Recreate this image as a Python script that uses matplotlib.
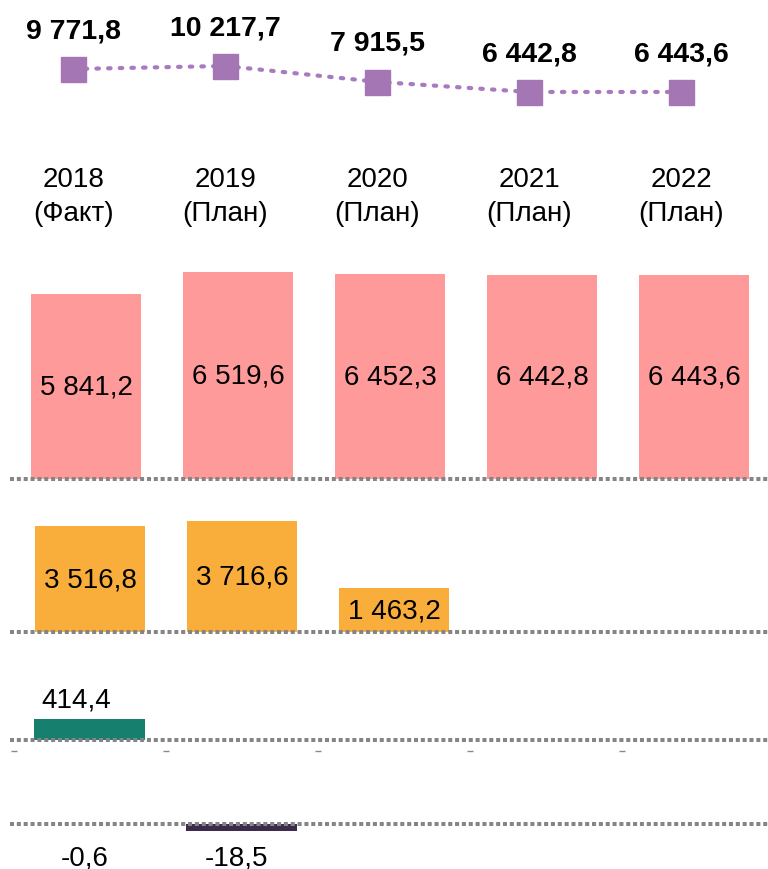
import matplotlib
matplotlib.use("Agg")
import matplotlib.pyplot as plt
import matplotlib.transforms as mtransforms

plt.rcParams['font.family'] = ['Liberation Sans', 'DejaVu Sans']

# data
years = ['2018\n(Факт)', '2019\n(План)', '2020\n(План)', '2021\n(План)', '2022\n(План)']
total = [9771.8, 10217.7, 7915.5, 6442.8, 6443.6]
red_vals = [5841.2, 6519.6, 6452.3, 6442.8, 6443.6]
orange_vals = [3516.8, 3716.6, 1463.2]
green_vals = [414.4]
dark_vals = [-0.6, -18.5]

W, H = 768, 870
fig = plt.figure(figsize=(W / 100, H / 100), dpi=100)


def axes_px(left, top, width, height):
    # pixel box -> figure fraction
    return fig.add_axes([left / W, 1 - (top + height) / H, width / W, height / H])


def fmt(v):
    s = f"{abs(v):,.1f}".replace(",", " ").replace(".", ",")
    return ("-" if v < 0 else "") + s


def clean(ax):
    for sp in ax.spines.values():
        sp.set_visible(False)
    ax.set_xticks([])
    ax.set_yticks([])
    ax.patch.set_alpha(0)


def baseline(ax):
    ax.axhline(0, color='#858585', lw=2.9, ls=(0, (1, 0.7)), zorder=5, clip_on=False)


grey = '#8a8a8a'
xs = range(len(years))

# top line with totals
ax0 = axes_px(10, 65, 760, 31)
clean(ax0)
ax0.set_xlim(-0.415, 4.585)
ax0.set_ylim(6000, 10500)
ax0.plot(xs, total, color='#a87bc0', lw=3, ls=(0, (0.6, 2.2)), dash_capstyle='round', zorder=2)
ax0.plot(xs, total, ls='none', marker='s', ms=18, color='#a576b4', zorder=3, clip_on=False)
for i, v in enumerate(total):
    ax0.annotate(fmt(v), (i, v), xytext=(0, 28), textcoords='offset points',
                 ha='center', va='center', fontsize=20.5, fontweight='bold')

tr = mtransforms.blended_transform_factory(ax0.transData, fig.transFigure)
for i, lab in enumerate(years):
    ax0.text(i, 1 - 197 / H, lab, transform=tr, ha='center', va='center',
             fontsize=20, linespacing=1.4)

# red bars
ax1 = axes_px(10, 258, 760, 222)
clean(ax1)
ax1.set_xlim(-0.5, 4.5)
ax1.set_ylim(0, 7000)
ax1.bar(range(len(red_vals)), red_vals, width=0.72, color='#ff9a9b', zorder=2)
for i, v in enumerate(red_vals):
    ax1.text(i, v / 2, fmt(v), ha='center', va='center', fontsize=20)
baseline(ax1)

# orange bars
ax2 = axes_px(10, 513, 760, 120)
clean(ax2)
ax2.set_xlim(-0.526, 4.474)
ax2.set_ylim(0, 4000)
ax2.bar(range(len(orange_vals)), orange_vals, width=0.72, color='#f9ad3b', zorder=2)
for i, v in enumerate(orange_vals):
    ax2.text(i, v / 2, fmt(v), ha='center', va='center', fontsize=20)
ax2.set_xlim(-0.526, 4.474)
baseline(ax2)

# green bars
ax3 = axes_px(10, 690, 760, 51)
clean(ax3)
ax3.set_xlim(-0.526, 4.474)
ax3.set_ylim(0, 1000)
ax3.bar(range(len(green_vals)), green_vals, width=0.73, color='#167f6e', zorder=2)
for i, v in enumerate(green_vals):
    ax3.annotate(fmt(v), (i, v), xytext=(-10, 14), textcoords='offset points',
                 ha='center', va='center', fontsize=20)
ax3.plot([-0.5 + k for k in range(5)], [-220] * 5, ls='none', marker='_', ms=5,
         color=grey, clip_on=False)
ax3.set_xlim(-0.526, 4.474)
baseline(ax3)

# dark bars
ax4 = axes_px(10, 821, 760, 15)
clean(ax4)
ax4.set_xlim(-0.526, 4.474)
ax4.set_ylim(-30, 10)
ax4.bar(range(len(dark_vals)), dark_vals, width=0.73, color='#3d2b4b', zorder=2)
for i, v in enumerate(dark_vals):
    ax4.annotate(fmt(v), (i, 0), xytext=(-4, -24), textcoords='offset points',
                 ha='center', va='center', fontsize=20)
baseline(ax4)

fig.savefig('out.png', dpi=100)
